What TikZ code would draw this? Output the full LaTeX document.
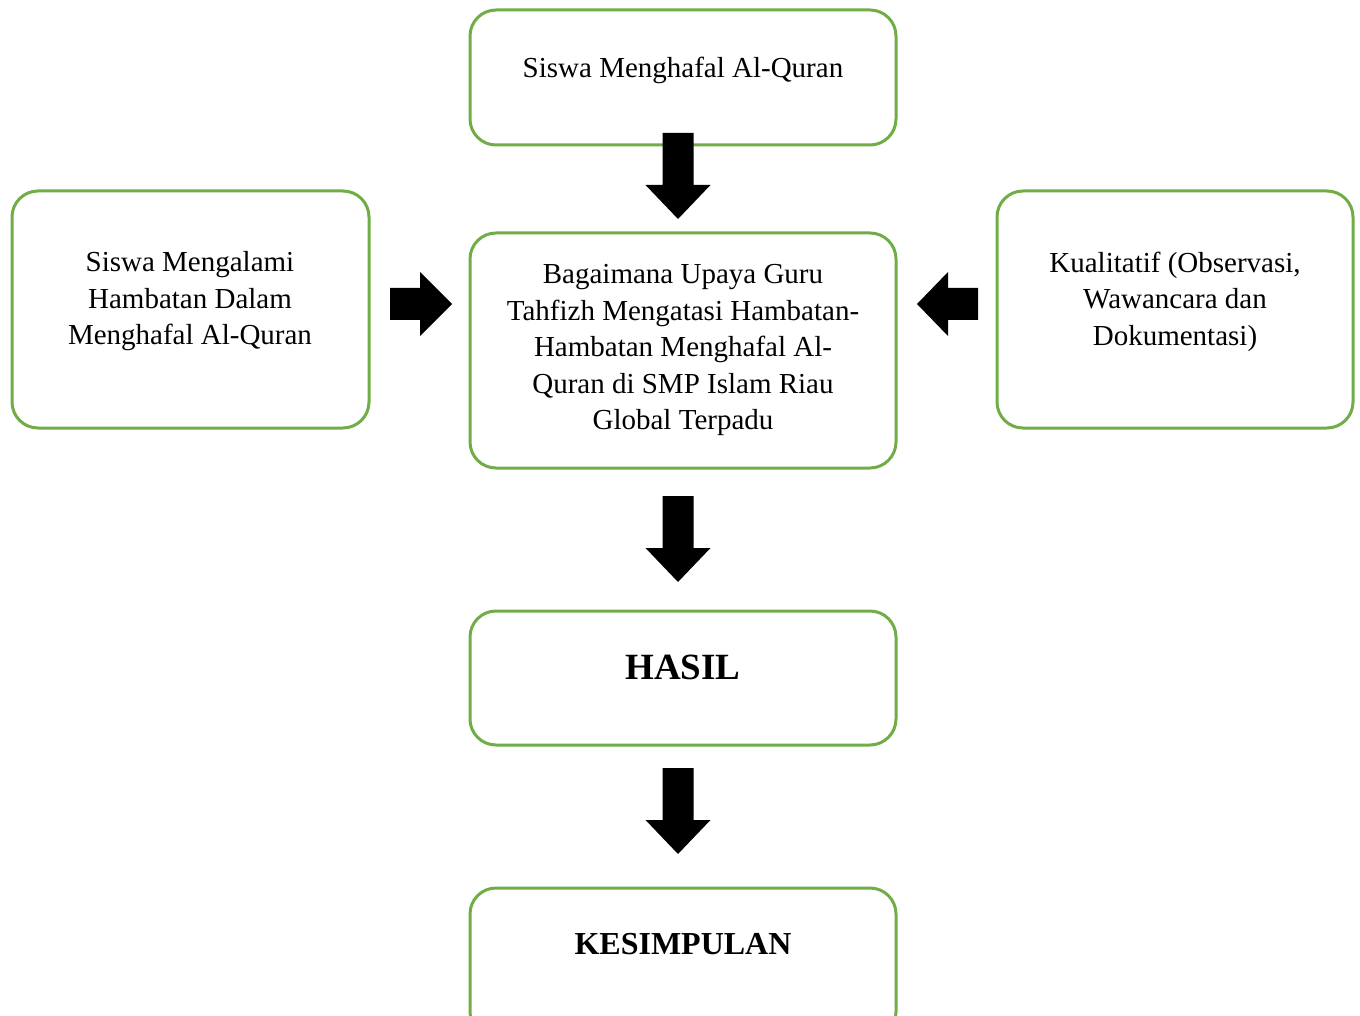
\documentclass[tikz,border=0pt]{standalone}
\usepackage{fontspec}
\setmainfont{Liberation Serif}
\definecolor{boxgreen}{HTML}{70AD47}
\begin{document}
\begin{tikzpicture}[x=0.5pt,y=-0.5pt,
  gbox/.style={draw=boxgreen, line width=1.5pt, rounded corners=13pt, fill=white, inner sep=0pt},
  txt/.style={align=center, font=\fontsize{14.5pt}{18.25pt}\selectfont, inner sep=0pt},
  bigtxt/.style={font=\fontsize{18.5pt}{22pt}\selectfont\bfseries, inner sep=0pt},
  midtxt/.style={font=\fontsize{16pt}{20pt}\selectfont\bfseries, inner sep=0pt},
  downarrow/.pic={\fill[black] (-15.5,0) -- (15.5,0) -- (15.5,52) -- (32.5,52) -- (0,86) -- (-32.5,52) -- (-15.5,52) -- cycle;},
  rightarrow/.pic={\fill[black] (0,-16) -- (30,-16) -- (30,-32) -- (62,0) -- (30,32) -- (30,16) -- (0,16) -- cycle;},
  leftarrow/.pic={\fill[black] (0,-16) -- (-30,-16) -- (-30,-32) -- (-61,0) -- (-30,32) -- (-30,16) -- (0,16) -- cycle;}
]
\useasboundingbox (0,0) rectangle (1360,1016);
% boxes
\node[gbox, minimum width=426*0.5pt, minimum height=135*0.5pt] (top) at (683,77.5) {};
\node[gbox, minimum width=426*0.5pt, minimum height=235*0.5pt] (mid) at (683,350.5) {};
\node[gbox, minimum width=357*0.5pt, minimum height=237*0.5pt] (left) at (190.5,309.5) {};
\node[gbox, minimum width=356*0.5pt, minimum height=237*0.5pt] (right) at (1175,309.5) {};
\node[gbox, minimum width=426*0.5pt, minimum height=134*0.5pt] (hasil) at (683,678) {};
\node[gbox, minimum width=426*0.5pt, minimum height=150*0.5pt] (kes) at (683,963) {};
% texts
\node[txt] (ttop) at (683,70) {Siswa Menghafal Al-Quran};
\node[txt] (tmid) at (683,350) {Bagaimana Upaya Guru\\Tahfizh Mengatasi Hambatan-\\Hambatan Menghafal Al-\\Quran di SMP Islam Riau\\Global Terpadu};
\node[txt] (tleft) at (190,301.5) {Siswa Mengalami\\Hambatan Dalam\\Menghafal Al-Quran};
\node[txt] (tright) at (1175,301.5) {Kualitatif (Observasi,\\Wawancara dan\\Dokumentasi)};
\node[bigtxt] (thasil) at (683,667) {HASIL};
\node[midtxt] (tkes) at (683,944) {KESIMPULAN};
% block arrows
\path (678,133) pic {downarrow};
\path (678,496) pic {downarrow};
\path (678,768) pic {downarrow};
\path (390,304) pic {rightarrow};
\path (978,304) pic {leftarrow};
\end{tikzpicture}
\end{document}
